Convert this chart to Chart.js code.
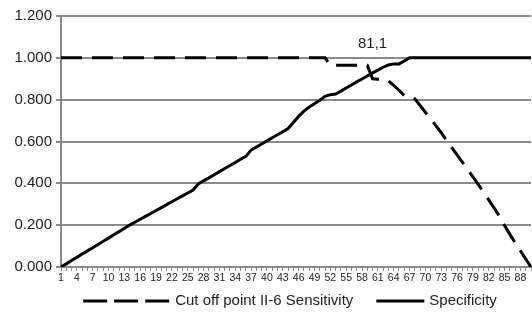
<!DOCTYPE html>
<html>
<head>
<meta charset="utf-8">
<script src="https://cdn.jsdelivr.net/npm/chart.js@4/dist/chart.umd.min.js"></script>
<style>
  html, body { margin: 0; padding: 0; background: #fff; }
  #wrap { width: 532px; height: 315px; }
</style>
</head>
<body>
<div id="wrap"><canvas id="chart" width="532" height="315"></canvas></div>
<script>
'use strict';

const categories = [
  '1', '2', '3', '4', '5', '6', '7', '8', '9', '10',
  '11', '12', '13', '14', '15', '16', '17', '18', '19', '20',
  '21', '22', '23', '24', '25', '26', '27', '28', '29', '30',
  '31', '32', '33', '34', '35', '36', '37', '38', '39', '40',
  '41', '42', '43', '44', '45', '46', '47', '48', '49', '50',
  '51', '52', '53', '54', '55', '56', '57', '58', '59', '60',
  '61', '62', '63', '64', '65', '66', '67', '68', '69', '70',
  '71', '72', '73', '74', '75', '76', '77', '78', '79', '80',
  '81', '82', '83', '84', '85', '86', '87', '88', '89', '90',
];

const sensitivity = [
  1, 1, 1, 1, 1, 1, 1, 1, 1, 1,
  1, 1, 1, 1, 1, 1, 1, 1, 1, 1,
  1, 1, 1, 1, 1, 1, 1, 1, 1, 1,
  1, 1, 1, 1, 1, 1, 1, 1, 1, 1,
  1, 1, 1, 1, 1, 1, 1, 1, 1, 1,
  1, 0.964, 0.964, 0.964, 0.964, 0.964, 0.964, 0.964, 0.964, 0.9,
  0.898, 0.896, 0.89, 0.868, 0.845, 0.82, 0.812, 0.804, 0.772, 0.74,
  0.708, 0.675, 0.642, 0.606, 0.571, 0.536, 0.501, 0.466, 0.431, 0.395,
  0.358, 0.321, 0.283, 0.243, 0.198, 0.156, 0.116, 0.077, 0.038, 0,
];

const specificity = [
  0, 0.015, 0.031, 0.046, 0.062, 0.077, 0.092, 0.108, 0.123, 0.138,
  0.154, 0.169, 0.185, 0.2, 0.214, 0.228, 0.242, 0.256, 0.27, 0.284,
  0.298, 0.312, 0.326, 0.34, 0.354, 0.368, 0.397, 0.412, 0.426, 0.441,
  0.456, 0.471, 0.485, 0.5, 0.515, 0.529, 0.559, 0.574, 0.588, 0.603,
  0.618, 0.632, 0.647, 0.662, 0.691, 0.72, 0.745, 0.765, 0.78, 0.797,
  0.816, 0.824, 0.827, 0.841, 0.856, 0.87, 0.885, 0.899, 0.913, 0.928,
  0.941, 0.955, 0.966, 0.971, 0.971, 0.985, 1, 1, 1, 1,
  1, 1, 1, 1, 1, 1, 1, 1, 1, 1,
  1, 1, 1, 1, 1, 1, 1, 1, 1, 1,
];

const seriesNames = ['Cut off point II-6 Sensitivity', 'Specificity'];

// cut-off annotation
const cutoffText = '81,1';
const cutoffCategory = '60';
const cutoffValue = 1.065;

const FONT = '"Liberation Sans", Arial, sans-serif';
const GRID = '#8a8a8a';
const TEXT = '#222';

const legendSamples = [
  { width: 87, dash: [24, 7] },
  { width: 48, dash: [] },
];

const extrasPlugin = {
  id: 'extras',
  afterDraw(chart) {
    const ctx = chart.ctx;
    const x = chart.scales.x;
    const y = chart.scales.y;

    ctx.save();
    ctx.font = '15px ' + FONT;
    ctx.fillStyle = TEXT;
    ctx.textAlign = 'center';
    ctx.textBaseline = 'middle';
    ctx.fillText(cutoffText, x.getPixelForValue(categories.indexOf(cutoffCategory)), y.getPixelForValue(cutoffValue));

    // legend below the axis
    const gapText = 5;
    const gapItem = 23;
    let total = 0;
    seriesNames.forEach((name, i) => {
      total += legendSamples[i].width + gapText + ctx.measureText(name).width;
    });
    total += gapItem * (seriesNames.length - 1);
    let lx = 290 - total / 2;
    const ly = 301;
    ctx.textAlign = 'left';
    seriesNames.forEach((name, i) => {
      const s = legendSamples[i];
      ctx.beginPath();
      ctx.setLineDash(s.dash);
      ctx.lineWidth = 3;
      ctx.strokeStyle = '#000';
      ctx.moveTo(lx, ly);
      ctx.lineTo(lx + s.width, ly);
      ctx.stroke();
      ctx.setLineDash([]);
      lx += s.width + gapText;
      ctx.fillText(name, lx, ly);
      lx += ctx.measureText(name).width + gapItem;
    });
    ctx.restore();
  },
};

new Chart(document.getElementById('chart').getContext('2d'), {
  type: 'line',
  data: {
    labels: categories,
    datasets: [
      {
        label: seriesNames[0],
        data: sensitivity,
        borderColor: '#000',
        borderWidth: 3,
        borderDash: [21, 10],
        pointRadius: 0,
        tension: 0,
        fill: false,
      },
      {
        label: seriesNames[1],
        data: specificity,
        borderColor: '#000',
        borderWidth: 3,
        pointRadius: 0,
        tension: 0,
        fill: false,
      },
    ],
  },
  options: {
    responsive: false,
    animation: false,
    layout: { padding: { top: 16, right: 0, bottom: 30, left: 0 } },
    plugins: {
      legend: { display: false },
      tooltip: { enabled: false },
    },
    scales: {
      x: {
        offset: false,
        grid: {
          drawOnChartArea: false,
          drawTicks: true,
          tickLength: 4,
          color: GRID,
          lineWidth: 1,
        },
        border: { display: true, color: GRID, width: 2 },
        ticks: {
          autoSkip: false,
          maxRotation: 0,
          padding: 1,
          color: TEXT,
          font: { family: FONT, size: 10.5 },
          callback: (v, i) => (i % 3 === 0 ? categories[i] : ''),
        },
        afterFit: (scale) => { scale.height = 18; },
      },
      y: {
        min: 0,
        max: 1.2,
        grid: {
          color: GRID,
          lineWidth: 2,
          drawTicks: true,
          tickLength: 5,
        },
        border: { display: true, color: GRID, width: 2 },
        ticks: {
          stepSize: 0.2,
          padding: 4,
          color: TEXT,
          font: { family: FONT, size: 15 },
          callback: (v) => Number(v).toFixed(3),
        },
        afterFit: (scale) => { scale.width = 61; },
      },
    },
  },
  plugins: [extrasPlugin],
});
</script>
</body>
</html>
